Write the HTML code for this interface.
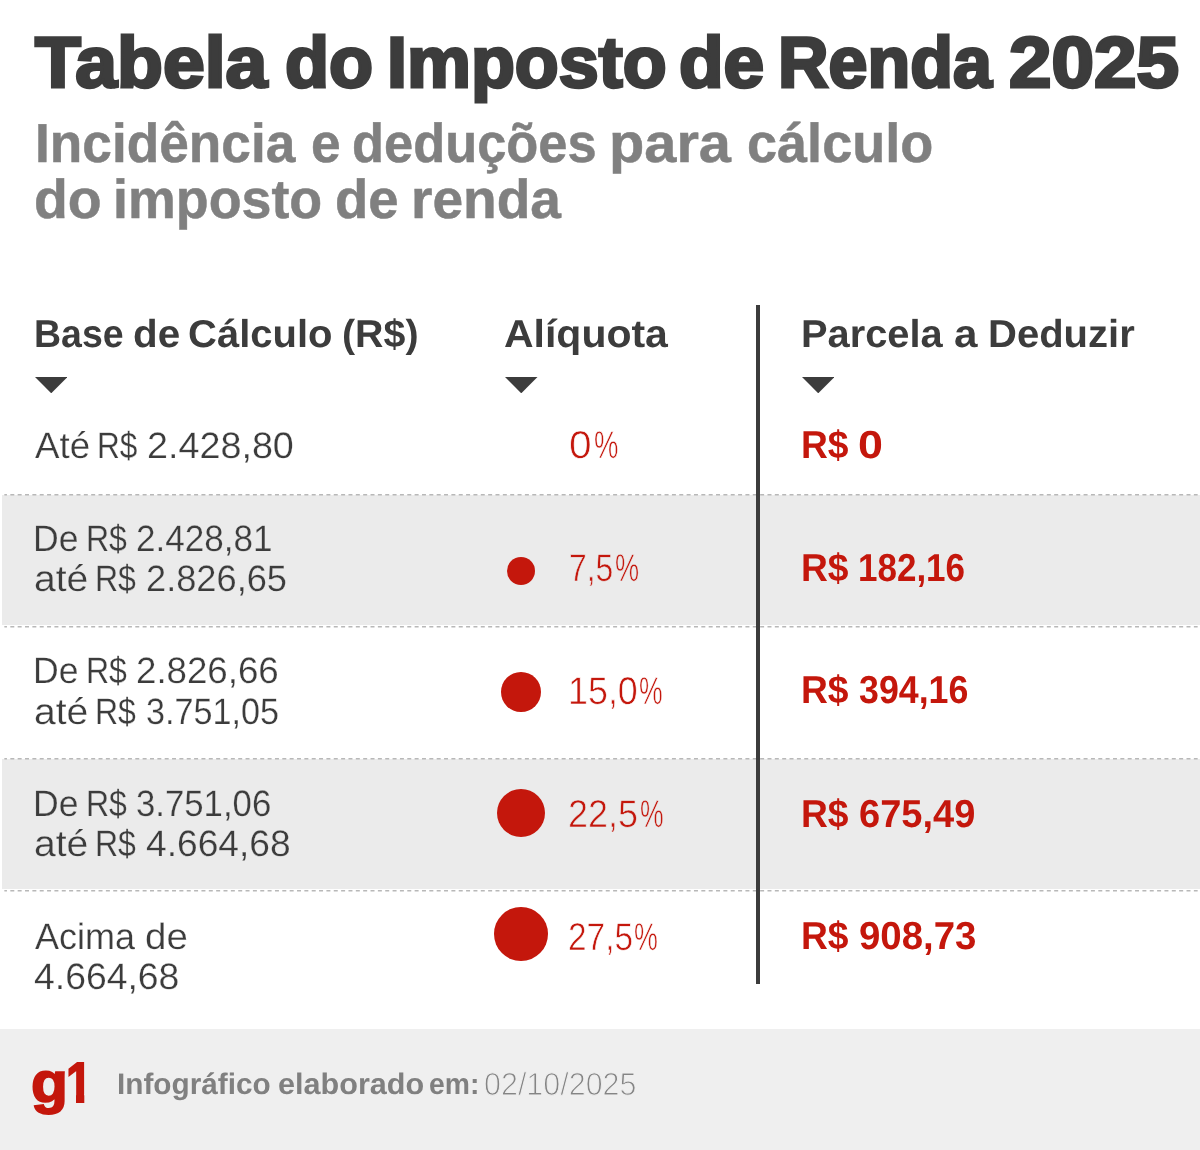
<!DOCTYPE html>
<html lang="pt-BR">
<head>
<meta charset="utf-8">
<title>Tabela do Imposto de Renda 2025</title>
<style>
html,body{margin:0;padding:0;background:#fff;}
body{width:1200px;height:1150px;overflow:hidden;position:relative;font-family:"Liberation Sans",sans-serif;}
.info{position:absolute;left:0;top:0;width:1200px;height:1150px;overflow:hidden;background:#fff;}
.t{position:absolute;white-space:pre;line-height:1em;text-rendering:geometricPrecision;transform-origin:0 0;display:block;margin:0;}
h1,h2,p{margin:0;font-size:inherit;font-weight:inherit;}
.h1{font-weight:700;color:#3c3c3c;-webkit-text-stroke:3.0px #3c3c3c;}
.h2{font-weight:700;color:#808080;-webkit-text-stroke:0.5px #808080;}
.th{font-weight:700;color:#3c3c3c;}
.td{font-weight:400;color:#3c3c3c;-webkit-text-stroke:0.25px #fff;}
.pc{font-weight:400;color:#c4170c;-webkit-text-stroke:0.65px #fff;}
.val{font-weight:700;color:#c4170c;}
.g1{font-weight:700;color:#c4170c;-webkit-text-stroke:1.8px #c4170c;}
.fl{font-weight:700;color:#808080;}
.fd{font-weight:400;color:#858585;-webkit-text-stroke:1.0px #fff;}
.band{position:absolute;left:2px;right:0;background:#ebebeb;}
.dash{position:absolute;left:2px;display:block;overflow:visible;}
.vline{position:absolute;left:756.4px;top:304.5px;width:3.7px;height:679.4px;background:#3c3c3c;}
.dot{position:absolute;border-radius:50%;background:#c4170c;display:block;}
.tri{position:absolute;display:block;}
footer{position:absolute;left:0;top:1029px;width:1200px;height:121px;background:#efefef;}
</style>
</head>
<body>
<main class="info">
  <header>
    <h1>
    <span class="t h1" style="left:34.93px;top:28.02px;font-size:71.71px;transform:scaleX(1.0470)">Tabela</span>
    <span class="t h1" style="left:284.84px;top:28.02px;font-size:71.71px;transform:scaleX(1.0062)">do</span>
    <span class="t h1" style="left:386.69px;top:28.02px;font-size:71.71px;transform:scaleX(1.0029)">Imposto</span>
    <span class="t h1" style="left:678.82px;top:28.02px;font-size:71.71px;transform:scaleX(1.0171)">de</span>
    <span class="t h1" style="left:777.58px;top:28.02px;font-size:71.71px;transform:scaleX(0.9757)">Renda</span>
    <span class="t h1" style="left:1009.45px;top:28.02px;font-size:71.71px;transform:scaleX(1.0661)">2025</span>
    </h1>
    <h2>
    <span class="t h2" style="left:34.98px;top:116.02px;font-size:54.98px;transform:scaleX(0.9681)">Incidência</span>
    <span class="t h2" style="left:310.66px;top:116.02px;font-size:54.98px;transform:scaleX(0.9688)">e</span>
    <span class="t h2" style="left:352.29px;top:116.02px;font-size:54.98px;transform:scaleX(0.9534)">deduções</span>
    <span class="t h2" style="left:609.46px;top:116.02px;font-size:54.98px;transform:scaleX(1.0504)">para</span>
    <span class="t h2" style="left:747.33px;top:116.02px;font-size:54.98px;transform:scaleX(0.9832)">cálculo</span>
    <span class="t h2" style="left:34.18px;top:172.02px;font-size:54.98px;transform:scaleX(1.0085)">do</span>
    <span class="t h2" style="left:113.49px;top:172.02px;font-size:54.98px;transform:scaleX(0.9786)">imposto</span>
    <span class="t h2" style="left:334.72px;top:172.02px;font-size:54.98px;transform:scaleX(0.9913)">de</span>
    <span class="t h2" style="left:410.82px;top:172.02px;font-size:54.98px;transform:scaleX(1.0015)">renda</span>
    </h2>
  </header>
  <div class="band" style="top:495.4px;height:130.1px"></div>
  <div class="band" style="top:759.4px;height:130px"></div>
  <svg class="dash" style="top:494.4px" width="1198" height="1.6" viewBox="0 0 1198 1.6"><line x1="0" y1="0.8" x2="1198" y2="0.8" stroke="#b8b8b8" stroke-width="1.6" stroke-dasharray="4 3.38" stroke-dashoffset="1.38"/></svg>
  <svg class="dash" style="top:626.05px" width="1198" height="1.6" viewBox="0 0 1198 1.6"><line x1="0" y1="0.8" x2="1198" y2="0.8" stroke="#b8b8b8" stroke-width="1.6" stroke-dasharray="4 3.38" stroke-dashoffset="1.38"/></svg>
  <svg class="dash" style="top:758.3px" width="1198" height="1.6" viewBox="0 0 1198 1.6"><line x1="0" y1="0.8" x2="1198" y2="0.8" stroke="#b8b8b8" stroke-width="1.6" stroke-dasharray="4 3.38" stroke-dashoffset="1.38"/></svg>
  <svg class="dash" style="top:890.1px" width="1198" height="1.6" viewBox="0 0 1198 1.6"><line x1="0" y1="0.8" x2="1198" y2="0.8" stroke="#b8b8b8" stroke-width="1.6" stroke-dasharray="4 3.38" stroke-dashoffset="1.38"/></svg>
  <section class="thead">
    <div class="col"><span class="t th" style="left:34.19px;top:316.02px;font-size:38.84px;transform:scaleX(0.9650)">Base</span> <span class="t th" style="left:132.54px;top:316.02px;font-size:38.84px;transform:scaleX(1.0398)">de</span> <span class="t th" style="left:188.35px;top:316.02px;font-size:38.84px;transform:scaleX(1.0306)">Cálculo</span> <span class="t th" style="left:341.74px;top:316.02px;font-size:38.84px;transform:scaleX(1.0134)">(R$)</span><svg class="tri" style="left:34.7px;top:376.7px" width="32.5" height="16.3" viewBox="0 0 32.5 16.3"><path d="M0 0H32.5L16.25 16.3Z" fill="#3c3c3c"/></svg></div>
    <div class="col"><span class="t th" style="left:504.21px;top:316.02px;font-size:38.84px;transform:scaleX(1.0552)">Alíquota</span><svg class="tri" style="left:505px;top:376.7px" width="32.5" height="16.3" viewBox="0 0 32.5 16.3"><path d="M0 0H32.5L16.25 16.3Z" fill="#3c3c3c"/></svg></div>
    <div class="col"><span class="t th" style="left:801.03px;top:316.02px;font-size:38.84px;transform:scaleX(1.0255)">Parcela</span> <span class="t th" style="left:953.75px;top:316.02px;font-size:38.84px;transform:scaleX(1.0871)">a</span> <span class="t th" style="left:988.12px;top:316.02px;font-size:38.84px;transform:scaleX(1.0303)">Deduzir</span><svg class="tri" style="left:801.5px;top:376.7px" width="32.5" height="16.3" viewBox="0 0 32.5 16.3"><path d="M0 0H32.5L16.25 16.3Z" fill="#3c3c3c"/></svg></div>
  </section>
  <section class="row">
    <div class="base">
      <p><span class="t td" style="left:34.69px;top:428.02px;font-size:36.73px;transform:scaleX(0.9991)">Até</span> <span class="t td" style="left:97.29px;top:428.02px;font-size:36.73px;transform:scaleX(0.8600)">R$</span> <span class="t td" style="left:146.78px;top:428.02px;font-size:36.73px;transform:scaleX(1.0273)">2.428,80</span></p>
    </div>
    <div class="aliq"><span class="t pc" style="left:569.35px;top:427.02px;font-size:38.76px;transform:scaleX(1.0486)">0</span><span class="t pc" style="left:594.28px;top:427.02px;font-size:38.76px;transform:scaleX(0.7094)">%</span></div>
    <div class="parc"><span class="t val" style="left:800.51px;top:427.02px;font-size:38.91px;transform:scaleX(0.9558)">R$</span> <span class="t val" style="left:858.23px;top:427.02px;font-size:38.91px;transform:scaleX(1.1519)">0</span></div>
  </section>
  <section class="row">
    <div class="base">
      <p><span class="t td" style="left:33.24px;top:521.02px;font-size:36.73px;transform:scaleX(0.9698);-webkit-text-stroke-color:#ebebeb">De</span> <span class="t td" style="left:86.05px;top:521.02px;font-size:36.73px;transform:scaleX(0.8716);-webkit-text-stroke-color:#ebebeb">R$</span> <span class="t td" style="left:136.12px;top:521.02px;font-size:36.73px;transform:scaleX(0.9550);-webkit-text-stroke-color:#ebebeb">2.428,81</span></p>
      <p><span class="t td" style="left:33.76px;top:561.02px;font-size:36.73px;transform:scaleX(1.0646);-webkit-text-stroke-color:#ebebeb">até</span> <span class="t td" style="left:95.25px;top:561.02px;font-size:36.73px;transform:scaleX(0.8716);-webkit-text-stroke-color:#ebebeb">R$</span> <span class="t td" style="left:145.56px;top:561.02px;font-size:36.73px;transform:scaleX(0.9865);-webkit-text-stroke-color:#ebebeb">2.826,65</span></p>
    </div>
    <div class="aliq"><i class="dot" style="left:507.05px;top:556.7px;width:28.4px;height:28.4px"></i><span class="t pc" style="left:568.6px;top:550.02px;font-size:38.76px;transform:scaleX(0.8229);-webkit-text-stroke-color:#ebebeb">7,5</span><span class="t pc" style="left:614.6px;top:550.02px;font-size:38.76px;transform:scaleX(0.6998);-webkit-text-stroke-color:#ebebeb">%</span></div>
    <div class="parc"><span class="t val" style="left:800.51px;top:550.02px;font-size:38.91px;transform:scaleX(0.9558)">R$</span> <span class="t val" style="left:858.09px;top:550.02px;font-size:38.91px;transform:scaleX(0.8993)">182,16</span></div>
  </section>
  <section class="row">
    <div class="base">
      <p><span class="t td" style="left:33.24px;top:653.02px;font-size:36.73px;transform:scaleX(0.9698)">De</span> <span class="t td" style="left:86.05px;top:653.02px;font-size:36.73px;transform:scaleX(0.8716)">R$</span> <span class="t td" style="left:136.03px;top:653.02px;font-size:36.73px;transform:scaleX(0.9987)">2.826,66</span></p>
      <p><span class="t td" style="left:33.76px;top:694.02px;font-size:36.73px;transform:scaleX(1.0646)">até</span> <span class="t td" style="left:95.25px;top:694.02px;font-size:36.73px;transform:scaleX(0.8716)">R$</span> <span class="t td" style="left:145.99px;top:694.02px;font-size:36.73px;transform:scaleX(0.9304)">3.751,05</span></p>
    </div>
    <div class="aliq"><i class="dot" style="left:501.35px;top:671.85px;width:39.8px;height:39.8px"></i><span class="t pc" style="left:568.26px;top:673.02px;font-size:38.76px;transform:scaleX(0.9255)">15,0</span><span class="t pc" style="left:638.82px;top:673.02px;font-size:38.76px;transform:scaleX(0.6869)">%</span></div>
    <div class="parc"><span class="t val" style="left:800.51px;top:672.02px;font-size:38.91px;transform:scaleX(0.9558)">R$</span> <span class="t val" style="left:859.44px;top:672.02px;font-size:38.91px;transform:scaleX(0.9193)">394,16</span></div>
  </section>
  <section class="row">
    <div class="base">
      <p><span class="t td" style="left:33.24px;top:786.02px;font-size:36.73px;transform:scaleX(0.9698);-webkit-text-stroke-color:#ebebeb">De</span> <span class="t td" style="left:86.05px;top:786.02px;font-size:36.73px;transform:scaleX(0.8716);-webkit-text-stroke-color:#ebebeb">R$</span> <span class="t td" style="left:136.46px;top:786.02px;font-size:36.73px;transform:scaleX(0.9461);-webkit-text-stroke-color:#ebebeb">3.751,06</span></p>
      <p><span class="t td" style="left:33.76px;top:826.02px;font-size:36.73px;transform:scaleX(1.0646);-webkit-text-stroke-color:#ebebeb">até</span> <span class="t td" style="left:95.25px;top:826.02px;font-size:36.73px;transform:scaleX(0.8716);-webkit-text-stroke-color:#ebebeb">R$</span> <span class="t td" style="left:146.02px;top:826.02px;font-size:36.73px;transform:scaleX(1.0114);-webkit-text-stroke-color:#ebebeb">4.664,68</span></p>
    </div>
    <div class="aliq"><i class="dot" style="left:497.05px;top:788.55px;width:48.4px;height:48.4px"></i><span class="t pc" style="left:568.39px;top:796.02px;font-size:38.76px;transform:scaleX(0.9279);-webkit-text-stroke-color:#ebebeb">22,5</span><span class="t pc" style="left:640.02px;top:796.02px;font-size:38.76px;transform:scaleX(0.6869);-webkit-text-stroke-color:#ebebeb">%</span></div>
    <div class="parc"><span class="t val" style="left:800.51px;top:796.02px;font-size:38.91px;transform:scaleX(0.9558)">R$</span> <span class="t val" style="left:858.9px;top:796.02px;font-size:38.91px;transform:scaleX(0.9778)">675,49</span></div>
  </section>
  <section class="row">
    <div class="base">
      <p><span class="t td" style="left:34.7px;top:919.02px;font-size:36.73px;transform:scaleX(0.9798)">Acima</span> <span class="t td" style="left:144.58px;top:919.02px;font-size:36.73px;transform:scaleX(1.0481)">de</span></p>
      <p><span class="t td" style="left:34.02px;top:959.02px;font-size:36.73px;transform:scaleX(1.0164)">4.664,68</span></p>
    </div>
    <div class="aliq"><i class="dot" style="left:494.2px;top:907.2px;width:53.8px;height:53.8px"></i><span class="t pc" style="left:568.04px;top:919.02px;font-size:38.76px;transform:scaleX(0.8618)">27,5</span><span class="t pc" style="left:634.31px;top:919.02px;font-size:38.76px;transform:scaleX(0.6933)">%</span></div>
    <div class="parc"><span class="t val" style="left:800.51px;top:918.02px;font-size:38.91px;transform:scaleX(0.9558)">R$</span> <span class="t val" style="left:858.96px;top:918.02px;font-size:38.91px;transform:scaleX(0.9872)">908,73</span></div>
  </section>
  <div class="vline"></div>
  <footer>
    <div class="logo"><span class="t g1" style="left:31.47px;top:27.02px;font-size:56.73px;transform:scaleX(1.0643)">g</span><span class="t g1" style="left:65.84px;top:27.02px;font-size:56.73px;transform:scaleX(0.8259);clip-path:polygon(0 0,56.7px 0,56.7px 38.25px,22.15px 38.25px,22.15px 56.7px,12.10px 56.7px,12.10px 38.25px,0 38.25px)">1</span></div>
    <p><span class="t fl" style="left:117.01px;top:41.02px;font-size:29.67px;transform:scaleX(1.0030)">Infográfico</span> <span class="t fl" style="left:277.54px;top:41.02px;font-size:29.67px;transform:scaleX(1.0315)">elaborado</span> <span class="t fl" style="left:429.38px;top:41.02px;font-size:29.67px;transform:scaleX(0.9551)">em:</span> <span class="t fd" style="left:484.31px;top:39.02px;font-size:32px;transform:scaleX(0.9522);-webkit-text-stroke-color:#efefef">02/10/2025</span></p>
  </footer>
</main>
</body>
</html>
